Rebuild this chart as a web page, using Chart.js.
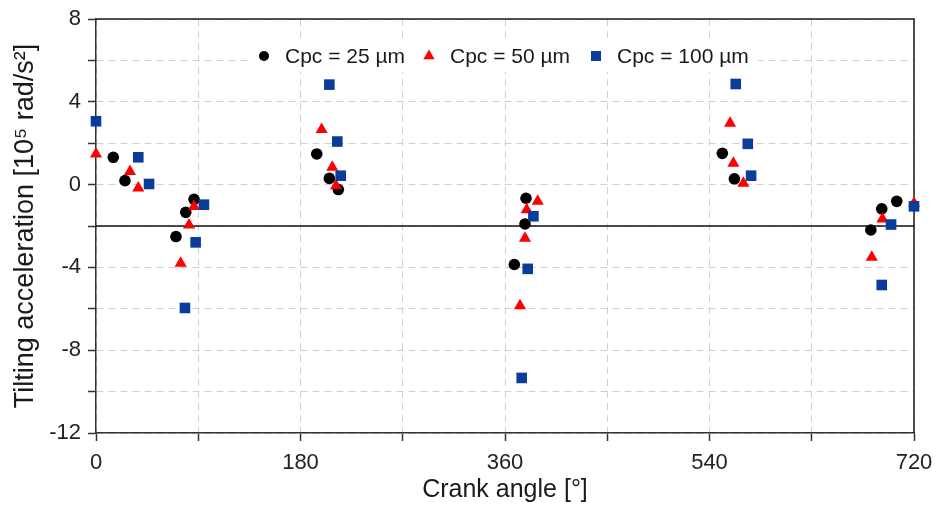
<!DOCTYPE html>
<html>
<head>
<meta charset="utf-8">
<title>Tilting acceleration vs crank angle</title>
<script src="https://cdn.jsdelivr.net/npm/chart.js@4/dist/chart.umd.min.js"></script>
<style>
  html, body { margin: 0; padding: 0; background: #fff; }
  #wrap { width: 936px; height: 507px; }
</style>
</head>
<body>
<div id="wrap"><canvas id="chart" width="936" height="507"></canvas></div>
<script>
// Tilting acceleration [10^5 rad/s^2] against crank angle [deg] for three clearances
const angle25 = [15.2, 25.5, 70.4, 79.0, 86.3, 194.3, 205.4, 213.3, 368.2, 377.6, 378.5, 551.3, 561.9, 682.0, 691.6, 704.8];
const accel25 = [1.32, 0.19, -2.51, -1.34, -0.71, 1.48, 0.30, -0.24, -3.86, -1.90, -0.66, 1.51, 0.28, -2.19, -1.17, -0.81];

const angle50 = [0, 29.9, 37.2, 74.5, 81.9, 86.3, 198.6, 208.0, 211.3, 373.2, 377.6, 379.1, 388.8, 558.1, 561.0, 569.8, 682.8, 692.2, 720];
const accel50 = [1.48, 0.63, -0.16, -3.80, -1.95, -1.06, 2.66, 0.84, -0.05, -5.85, -2.59, -1.21, -0.81, 2.96, 1.03, 0.06, -3.51, -1.66, -0.90];

const angle100 = [0, 37.2, 46.7, 78.3, 87.7, 95.0, 205.4, 212.4, 215.4, 374.7, 380.0, 385.0, 563.1, 573.7, 576.6, 691.6, 699.8, 720];
const accel100 = [3.06, 1.32, 0.03, -5.96, -2.79, -0.97, 4.83, 2.08, 0.43, -9.34, -4.07, -1.53, 4.86, 1.97, 0.43, -4.85, -1.93, -1.05];

const seriesLabels = ['Cpc = 25 µm', 'Cpc = 50 µm', 'Cpc = 100 µm'];

// reference level drawn as a solid horizontal line
const refAngles = [0, 720];
const refLevel = -2;

const xTicks = [0, 180, 360, 540, 720];
const yTicks = [8, 4, 0, -4, -8, -12];

const FONT = '"Liberation Sans", Arial, Helvetica, sans-serif';

function pts(xs, ys) { return xs.map((x, i) => ({ x: x, y: ys[i] })); }

const COL25 = '#000000';
const COL50 = '#ff0000';
const COL100 = '#0a3c9c';

// top and right frame lines of the plot box
const frameBox = {
  id: 'frameBox',
  beforeDatasetsDraw(chart) {
    const { ctx, chartArea: a } = chart;
    ctx.save();
    ctx.strokeStyle = '#1a1a1a';
    ctx.lineWidth = 1.5;
    ctx.beginPath();
    ctx.moveTo(a.left, a.top);
    ctx.lineTo(a.right, a.top);
    ctx.lineTo(a.right, a.bottom);
    ctx.stroke();
    ctx.restore();
  }
};

// legend placed inside the plot, on a white band
const insideLegend = {
  id: 'insideLegend',
  afterDatasetsDraw(chart, args, opts) {
    const { ctx } = chart;
    ctx.save();
    ctx.fillStyle = '#ffffff';
    ctx.fillRect(opts.box[0], opts.box[1], opts.box[2], opts.box[3]);
    ctx.font = opts.font;
    ctx.textBaseline = 'middle';
    ctx.textAlign = 'left';
    const y = opts.y;
    opts.items.forEach((it, i) => {
      const ds = chart.data.datasets.find(d => d.label === seriesLabels[i]);
      const mx = it.marker;
      ctx.fillStyle = ds.backgroundColor;
      ctx.beginPath();
      if (ds.pointStyle === 'circle') {
        ctx.arc(mx, y, 5, 0, Math.PI * 2);
      } else if (ds.pointStyle === 'triangle') {
        const r = 6.5;
        ctx.moveTo(mx, y - r);
        ctx.lineTo(mx + r * 0.866, y + r * 0.5);
        ctx.lineTo(mx - r * 0.866, y + r * 0.5);
        ctx.closePath();
      } else {
        ctx.rect(mx - 5, y - 5, 10, 10);
      }
      ctx.fill();
      ctx.fillStyle = '#1a1a1a';
      ctx.fillText(seriesLabels[i], it.text, y + 1);
    });
    ctx.restore();
  }
};

const scatterSet = (label, xs, ys, color, style, radius) => ({
  type: 'scatter',
  label: label,
  data: pts(xs, ys),
  backgroundColor: color,
  borderColor: color,
  borderWidth: 0,
  pointStyle: style,
  pointRadius: radius,
  pointHoverRadius: radius,
  clip: false
});

new Chart(document.getElementById('chart'), {
  data: {
    datasets: [
      scatterSet(seriesLabels[2], angle100, accel100, COL100, 'rect', 7.5),
      scatterSet(seriesLabels[1], angle50, accel50, COL50, 'triangle', 7),
      scatterSet(seriesLabels[0], angle25, accel25, COL25, 'circle', 5.8),
      {
        type: 'line',
        label: 'reference',
        data: refAngles.map(x => ({ x: x, y: refLevel })),
        borderColor: '#111',
        borderWidth: 1.5,
        pointRadius: 0,
        fill: false
      }
    ]
  },
  options: {
    responsive: false,
    animation: false,
    devicePixelRatio: 1,
    layout: { padding: { left: 0, right: 22, top: 19, bottom: 0 } },
    plugins: {
      legend: { display: false },
      tooltip: { enabled: false },
      insideLegend: {
        box: [250, 40, 508, 32],
        y: 56,
        font: '21px ' + FONT,
        items: [
          { marker: 264, text: 285 },
          { marker: 429, text: 450 },
          { marker: 596, text: 617 }
        ]
      }
    },
    scales: {
      x: {
        type: 'linear',
        position: 'bottom',
        min: 0,
        max: 720,
        afterFit(scale) {
          scale.height = 74;
          scale.paddingLeft = 0;
          scale.paddingRight = 0;
        },
        afterBuildTicks(scale) {
          const t = [];
          for (let v = 0; v <= 720; v += 90) t.push({ value: v });
          scale.ticks = t;
        },
        ticks: {
          autoSkip: false,
          maxRotation: 0,
          padding: 9,
          color: '#222',
          font: { family: FONT, size: 22 },
          callback: (v) => xTicks.includes(v) ? String(v) : ''
        },
        grid: {
          color: '#cfcfcf',
          lineWidth: 1,
          drawTicks: true,
          tickLength: 8,
          tickColor: '#333',
          tickWidth: 1.5,
          tickBorderDash: []
        },
        border: { display: true, color: '#333', width: 1.5, dash: [7, 5] },
        title: {
          display: true,
          text: 'Crank angle [°]',
          color: '#1a1a1a',
          font: { family: FONT, size: 25 },
          padding: { top: 0, bottom: 2 }
        }
      },
      y: {
        type: 'linear',
        position: 'left',
        min: -12,
        max: 8,
        afterFit(scale) {
          scale.width = 96;
          scale.paddingTop = 0;
          scale.paddingBottom = 0;
        },
        afterBuildTicks(scale) {
          const t = [];
          for (let v = -12; v <= 8; v += 2) t.push({ value: v });
          scale.ticks = t;
        },
        ticks: {
          autoSkip: false,
          padding: 7,
          color: '#222',
          font: { family: FONT, size: 22 },
          callback: (v) => yTicks.includes(v) ? String(v) : ''
        },
        grid: {
          color: '#cfcfcf',
          lineWidth: 1,
          drawTicks: true,
          tickLength: 8,
          tickColor: '#333',
          tickWidth: 1.5,
          tickBorderDash: []
        },
        border: { display: true, color: '#333', width: 1.5, dash: [7, 5] },
        title: {
          display: true,
          text: 'Tilting acceleration [10⁵ rad/s²]',
          color: '#1a1a1a',
          font: { family: FONT, size: 27 },
          padding: { top: 9, bottom: 0 }
        }
      }
    }
  },
  plugins: [frameBox, insideLegend]
});
</script>
</body>
</html>
